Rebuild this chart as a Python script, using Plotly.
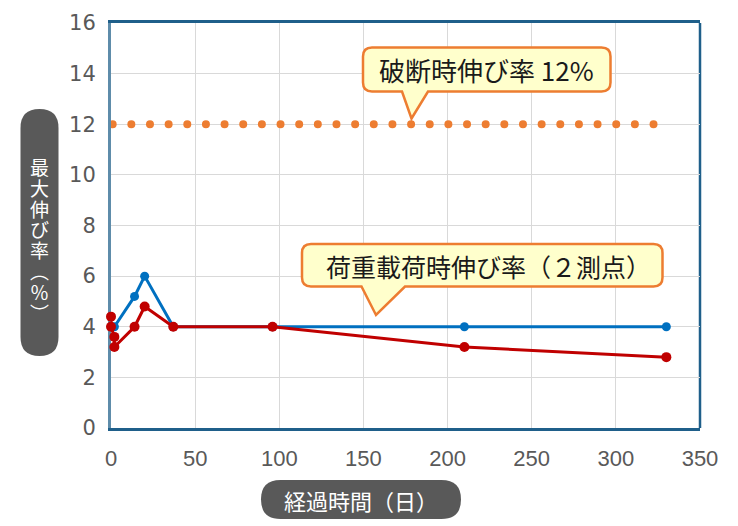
import plotly.graph_objects as go

# ---------------- data ----------------
blue_x = [2, 14, 20, 37, 96, 210, 330]
blue_y = [4.0, 5.2, 6.0, 4.0, 4.0, 4.0, 4.0]
red_x = [0, 0, 2, 2, 14, 20, 37, 96, 210, 330]
red_y = [4.4, 4.0, 3.6, 3.2, 4.0, 4.8, 4.0, 4.0, 3.2, 2.8]
break_x = [1, 322.5]
break_y = [12, 12]
x_ticks = [0, 50, 100, 150, 200, 250, 300, 350]
y_ticks = [0, 2, 4, 6, 8, 10, 12, 14, 16]
x_title = "経過時間（日）"
y_title_chars = ["最", "大", "伸", "び", "率", "︵", "％", "︶"]
callout1 = "破断時伸び率 12%"
callout2 = "荷重載荷時伸び率（２測点）"

W, H = 738, 526
L, R, T, B = 111, 38, 23, 98
PW, PH = W - L - R, H - T - B

def px(x):
    return (x - L) / PW

def py(y):
    return (H - B - y) / PH

def pill_path(x0, y0, x1, y1, r):
    def P(x, y):
        return f"{px(x):.5f},{py(y):.5f}"
    return (f"M{P(x0 + r, y0)} L{P(x1 - r, y0)} Q{P(x1, y0)} {P(x1, y0 + r)} "
            f"L{P(x1, y1 - r)} Q{P(x1, y1)} {P(x1 - r, y1)} L{P(x0 + r, y1)} "
            f"Q{P(x0, y1)} {P(x0, y1 - r)} L{P(x0, y0 + r)} Q{P(x0, y0)} {P(x0 + r, y0)} Z")

def callout_path(x0, y0, x1, y1, r, bx0, bx1, tx, ty):
    def P(x, y):
        return f"{px(x):.5f},{py(y):.5f}"
    return (f"M{P(x0 + r, y0)} L{P(x1 - r, y0)} Q{P(x1, y0)} {P(x1, y0 + r)} "
            f"L{P(x1, y1 - r)} Q{P(x1, y1)} {P(x1 - r, y1)} L{P(bx1, y1)} L{P(tx, ty)} L{P(bx0, y1)} "
            f"L{P(x0 + r, y1)} Q{P(x0, y1)} {P(x0, y1 - r)} L{P(x0, y0 + r)} Q{P(x0, y0)} {P(x0 + r, y0)} Z")

ORANGE = "#ED7D31"
BLUE = "#0070C0"
RED = "#C00000"
GRAY = "#595959"
CJK = "Noto Sans CJK JP"

fig = go.Figure()

fig.add_trace(go.Scatter(
    x=break_x, y=break_y, mode="lines",
    line=dict(color=ORANGE, width=8, dash="0px,18.65px"),
    hoverinfo="skip", cliponaxis=False))

fig.add_trace(go.Scatter(
    x=blue_x, y=blue_y, mode="lines+markers",
    line=dict(color=BLUE, width=3),
    marker=dict(color=BLUE, size=9),
    cliponaxis=False))

fig.add_trace(go.Scatter(
    x=red_x, y=red_y, mode="lines+markers",
    line=dict(color=RED, width=3),
    marker=dict(color=RED, size=10),
    cliponaxis=False))

shapes = [
    dict(type="line", xref="paper", yref="paper", x0=1, x1=1, y0=0, y1=1,
         line=dict(color="#1F5F8A", width=2.5), layer="between"),
    dict(type="path", xref="paper", yref="paper",
         path=callout_path(363, 47.5, 610.5, 91.5, 9, 402, 428, 411.5, 118.5),
         fillcolor="#FFFFCC", line=dict(color=ORANGE, width=2.5), layer="above"),
    dict(type="path", xref="paper", yref="paper",
         path=callout_path(302, 244, 662.5, 286.5, 9, 361.5, 405, 376, 315),
         fillcolor="#FFFFCC", line=dict(color=ORANGE, width=2.5), layer="above"),
    dict(type="path", xref="paper", yref="paper",
         path=pill_path(20.5, 109, 58.5, 356, 19),
         fillcolor=GRAY, line=dict(width=0), layer="above"),
    dict(type="path", xref="paper", yref="paper",
         path=pill_path(261, 480, 461, 519, 19.5),
         fillcolor=GRAY, line=dict(width=0), layer="above"),
]

annotations = [
    dict(xref="paper", yref="paper", x=px(486), y=py(69), text=callout1,
         showarrow=False, font=dict(family=CJK, size=26, color="#1a1a1a"),
         xanchor="center", yanchor="middle"),
    dict(xref="paper", yref="paper", x=px(489), y=py(265.5), text=callout2,
         showarrow=False, font=dict(family=CJK, size=25, color="#1a1a1a"),
         xanchor="center", yanchor="middle"),
    dict(xref="paper", yref="paper", x=px(361), y=py(499.5), text=x_title,
         showarrow=False, font=dict(family=CJK, size=22, color="white"),
         xanchor="center", yanchor="middle"),
]
for i, ch in enumerate(y_title_chars):
    annotations.append(dict(
        xref="paper", yref="paper", x=px(39.5), y=py(166.5 + i * 20.8), text=ch,
        showarrow=False, font=dict(family=CJK, size=19, color="white"),
        xanchor="center", yanchor="middle"))

fig.update_layout(
    width=W, height=H,
    margin=dict(l=L, r=R, t=T, b=B, pad=0),
    paper_bgcolor="white", plot_bgcolor="white",
    showlegend=False,
    shapes=shapes, annotations=annotations,
    xaxis=dict(range=[0, 350], tickvals=x_ticks, ticktext=[str(v) for v in x_ticks],
               showgrid=True, gridcolor="#D9D9D9", gridwidth=1, zeroline=False,
               showline=True, linecolor="#1F5F8A", linewidth=2.5, mirror=True,
               ticks="", ticklabelstandoff=9, layer="below traces",
               tickfont=dict(family="Liberation Sans Narrow, Arial Narrow, Liberation Sans", size=22, color=GRAY)),
    yaxis=dict(range=[0, 16], tickvals=y_ticks, ticktext=[str(v) for v in y_ticks],
               showgrid=True, gridcolor="#D9D9D9", gridwidth=1, zeroline=False,
               showline=True, linecolor="#5E8CAA", linewidth=3,
               ticks="", ticklabelstandoff=8, layer="below traces",
               tickfont=dict(family="DejaVu Sans", size=21, color=GRAY)),
)

post = ("var s=document.createElement('style');"
        "s.textContent='path.js-line[style*=\"237, 125, 49\"]{stroke-linecap:round !important;}';"
        "document.head.appendChild(s);")

fig.write_html("out.html", post_script=post)
